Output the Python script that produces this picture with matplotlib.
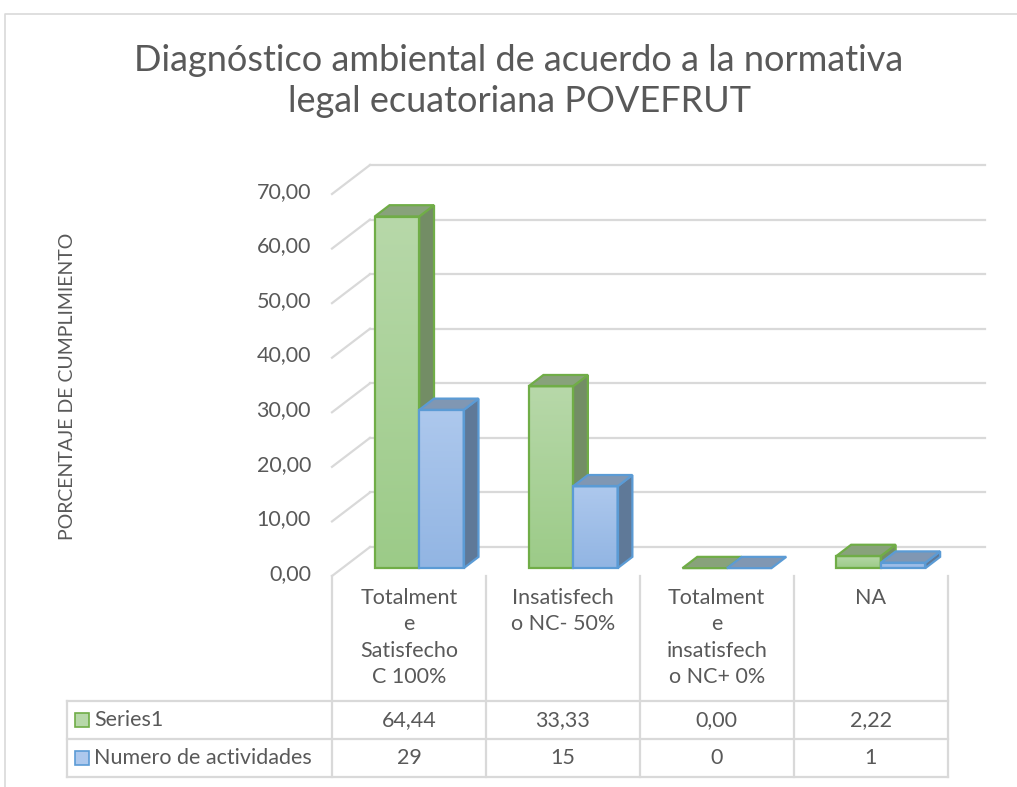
import numpy as np
import matplotlib
matplotlib.use("Agg")
import matplotlib.pyplot as plt
from matplotlib.patches import Polygon, Rectangle
from matplotlib.lines import Line2D

# ---- data ----
categories = ["Totalment\ne\nSatisfecho\nC 100%", "Insatisfech\no NC- 50%",
              "Totalment\ne\ninsatisfech\no NC+ 0%", "NA"]
series_names = ["Series1", "Numero de actividades"]
series1 = [64.44, 33.33, 0.00, 2.22]
actividades = [29, 15, 0, 1]
y_ticks = [0, 10, 20, 30, 40, 50, 60, 70]

title = "Diagnóstico ambiental de acuerdo a la normativa\nlegal ecuatoriana POVEFRUT"
y_label = "PORCENTAJE DE CUMPLIMIENTO"

# ---- style ----
W, H = 1017, 787
TXT = "#595959"
GRID = "#d9d9d9"
FONT = "Lato"
FS = 15.5
green = dict(top="#b7d8a9", bot="#9ccb88", edge="#70ad47", side="#738d65", cap="#88a27b")
blue = dict(top="#adc8ed", bot="#92b5e3", edge="#5b9bd5", side="#5f7998", cap="#8097b3")
styles = [green, blue]


def fx(px):
    return px / W


def fy(py):
    return 1 - py / H


fig = plt.figure(figsize=(W / 100, H / 100), dpi=100)
fig.patch.set_facecolor("white")

# outer chart frame (only top/left visible)
fig.add_artist(Line2D([fx(5), fx(5), 1], [0, fy(14), fy(14)], color=GRID, lw=1.2))

# plot area: front plane of the 3D box
x_left, x_right, y0_px, y70_px = 332, 947.5, 576, 194
ax = fig.add_axes([fx(x_left), fy(y0_px), (x_right - x_left) / W, (y0_px - y70_px) / H])
ax.axis("off")
ncat = len(categories)
cat_px = (x_right - x_left) / ncat
val_px = (y0_px - y70_px) / 70.0

# depth vector of the box, in data units
dx = 38 / cat_px
dy = 29 / val_px
f_front, f_back = 0.27, 0.66
bar_w = 44.5 / cat_px

# walls: back gridlines and left wall diagonals
for v in y_ticks:
    ax.plot([dx, ncat + dx], [v + dy, v + dy], color=GRID, lw=1.6, zorder=1, clip_on=False)
    ax.plot([0, dx], [v, v + dy], color=GRID, lw=1.6, zorder=1, clip_on=False)
    ax.text(-21 / cat_px, v + 0.4, f"{v:.2f}".replace(".", ","), ha="right", va="center",
            fontsize=FS, color=TXT, family=FONT)


def draw_bar(xl, h, st, z):
    xr = xl + bar_w
    ox0, oy0 = f_front * dx, f_front * dy
    ox1, oy1 = f_back * dx, f_back * dy
    # front face with vertical gradient
    if h > 0:
        grad = np.linspace(0, 1, 64).reshape(-1, 1)
        c0 = np.array(matplotlib.colors.to_rgb(st["bot"]))
        c1 = np.array(matplotlib.colors.to_rgb(st["top"]))
        img = c0 + (c1 - c0) * grad[..., None]
        ax.imshow(img, extent=(xl + ox0, xr + ox0, oy0, h + oy0), origin="lower",
                  aspect="auto", zorder=z, interpolation="bilinear", clip_on=False)
        ax.add_patch(Rectangle((xl + ox0, oy0), bar_w, h, fill=False,
                               ec=st["edge"], lw=1.6, zorder=z + 0.3, clip_on=False))
        # side face
        ax.add_patch(Polygon([(xr + ox0, oy0), (xr + ox1, oy1), (xr + ox1, h + oy1), (xr + ox0, h + oy0)],
                             closed=True, fc=st["side"], ec=st["edge"], lw=1.6,
                             zorder=z + 0.1, clip_on=False))
    # top face
    ax.add_patch(Polygon([(xl + ox0, h + oy0), (xr + ox0, h + oy0), (xr + ox1, h + oy1), (xl + ox1, h + oy1)],
                         closed=True, fc=st["cap"], ec=st["edge"], lw=1.6,
                         zorder=z + 0.2, clip_on=False))


for i in range(ncat):
    c = i + 0.5
    for j, vals in enumerate([series1, actividades]):
        draw_bar(c - bar_w + j * bar_w, vals[i], styles[j], 3 + i * 2 + j)

ax.set_xlim(0, ncat)
ax.set_ylim(0, 70)

# ---- data table ----
tbl_top, row1, row2, row3 = y0_px, 701, 739, 777
leg_left = 67
col_x = [x_left + k * cat_px for k in range(ncat + 1)]
for xv in col_x:
    fig.add_artist(Line2D([fx(xv), fx(xv)], [fy(tbl_top), fy(row3)], color=GRID, lw=1.6))
fig.add_artist(Line2D([fx(leg_left), fx(leg_left)], [fy(row1), fy(row3)], color=GRID, lw=1.6))
for yv in [row1, row2, row3]:
    fig.add_artist(Line2D([fx(leg_left), fx(x_right)], [fy(yv), fy(yv)], color=GRID, lw=1.6))

for i, lab in enumerate(categories):
    cx = x_left + cat_px * (i + 0.5)
    fig.text(fx(cx), fy(588), lab, ha="center", va="top", fontsize=FS, color=TXT,
             family=FONT, linespacing=1.4)
    fig.text(fx(cx), fy((row1 + row2) / 2), f"{series1[i]:.2f}".replace(".", ","),
             ha="center", va="center", fontsize=FS, color=TXT, family=FONT)
    fig.text(fx(cx), fy((row2 + row3) / 2), f"{actividades[i]}",
             ha="center", va="center", fontsize=FS, color=TXT, family=FONT)

for j, (name, st) in enumerate(zip(series_names, styles)):
    yc = (row1 + row2) / 2 if j == 0 else (row2 + row3) / 2
    fig.add_artist(Rectangle((fx(75), fy(yc + 7)), 14 / W, 14 / H, fc=st["top"], ec=st["edge"], lw=1.2))
    fig.text(fx(94), fy(yc), name, ha="left", va="center", fontsize=FS, color=TXT, family=FONT)

# ---- titles ----
fig.text(fx(519), fy(81), title, ha="center", va="center", fontsize=26, color=TXT,
         family=FONT, linespacing=1.3)
fig.text(fx(68), fy(386), y_label, ha="center", va="center", rotation=90, fontsize=14,
         color=TXT, family=FONT)

fig.savefig("out.png", dpi=100, facecolor="white")
